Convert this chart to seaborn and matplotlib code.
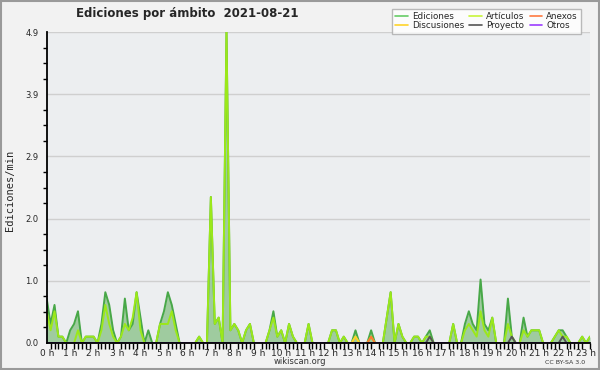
import numpy as np
import pandas as pd
import matplotlib
matplotlib.use("Agg")
import matplotlib.pyplot as plt
import seaborn as sns
from matplotlib.ticker import MultipleLocator, FixedLocator
from matplotlib.lines import Line2D
from matplotlib.patches import Rectangle

# ---- data: edits/min per 10-minute interval, 2021-08-21 ----
ediciones = [
    0.7, 0.3, 0.6, 0.1, 0.1, 0.0, 0.2, 0.3, 0.5, 0.0, 0.1, 0.1,
    0.1, 0.0, 0.3, 0.8, 0.6, 0.2, 0.0, 0.1, 0.7, 0.2, 0.3, 0.8,
    0.4, 0.0, 0.2, 0.0, 0.0, 0.3, 0.5, 0.8, 0.6, 0.3, 0.0, 0.0,
    0.0, 0.0, 0.0, 0.1, 0.0, 0.0, 2.3, 0.3, 0.4, 0.0, 4.9, 0.2,
    0.3, 0.2, 0.0, 0.2, 0.3, 0.0, 0.0, 0.0, 0.0, 0.2, 0.5, 0.1,
    0.2, 0.0, 0.3, 0.1, 0.0, 0.0, 0.0, 0.3, 0.0, 0.0, 0.0, 0.0,
    0.0, 0.2, 0.2, 0.0, 0.1, 0.0, 0.0, 0.2, 0.0, 0.0, 0.0, 0.2,
    0.0, 0.0, 0.0, 0.4, 0.8, 0.0, 0.3, 0.1, 0.0, 0.0, 0.1, 0.1,
    0.0, 0.1, 0.2, 0.0, 0.0, 0.0, 0.0, 0.0, 0.3, 0.0, 0.0, 0.3,
    0.5, 0.3, 0.2, 1.0, 0.3, 0.2, 0.4, 0.0, 0.0, 0.0, 0.7, 0.1,
    0.0, 0.0, 0.4, 0.1, 0.2, 0.2, 0.2, 0.0, 0.0, 0.0, 0.1, 0.2,
    0.2, 0.1, 0.0, 0.0, 0.0, 0.1, 0.0, 0.1,
]
articulos = [
    0.5, 0.2, 0.5, 0.1, 0.1, 0.0, 0.0, 0.0, 0.2, 0.0, 0.1, 0.1,
    0.1, 0.0, 0.2, 0.6, 0.3, 0.1, 0.0, 0.1, 0.3, 0.2, 0.4, 0.8,
    0.2, 0.0, 0.0, 0.0, 0.0, 0.3, 0.3, 0.3, 0.5, 0.2, 0.0, 0.0,
    0.0, 0.0, 0.0, 0.1, 0.0, 0.0, 2.3, 0.3, 0.4, 0.0, 4.9, 0.2,
    0.3, 0.2, 0.0, 0.2, 0.3, 0.0, 0.0, 0.0, 0.0, 0.2, 0.4, 0.1,
    0.2, 0.0, 0.3, 0.1, 0.0, 0.0, 0.0, 0.3, 0.0, 0.0, 0.0, 0.0,
    0.0, 0.2, 0.2, 0.0, 0.1, 0.0, 0.0, 0.1, 0.0, 0.0, 0.0, 0.1,
    0.0, 0.0, 0.0, 0.4, 0.8, 0.0, 0.3, 0.1, 0.0, 0.0, 0.1, 0.1,
    0.0, 0.1, 0.1, 0.0, 0.0, 0.0, 0.0, 0.0, 0.3, 0.0, 0.0, 0.2,
    0.3, 0.2, 0.1, 0.5, 0.2, 0.1, 0.4, 0.0, 0.0, 0.0, 0.3, 0.1,
    0.0, 0.0, 0.2, 0.1, 0.2, 0.2, 0.2, 0.0, 0.0, 0.0, 0.1, 0.2,
    0.1, 0.1, 0.0, 0.0, 0.0, 0.1, 0.0, 0.1,
]
# sparse series: {interval index: value}
discusiones_nz = {79: 0.1}
anexos_nz = {83: 0.1}
proyecto_nz = {98: 0.1, 119: 0.1, 132: 0.1}
otros_nz = {}

hour_labels = [f"{h} h" for h in range(24)]
y_tick_values = [0.0, 0.98, 1.96, 2.94, 3.92, 4.9]
y_tick_labels = ["0.0", "1.0", "2.0", "2.9", "3.9", "4.9"]

n = len(ediciones)


def expand(nz):
    arr = np.zeros(n)
    for k, v in nz.items():
        arr[k] = v
    return arr


df = pd.DataFrame({
    "hora": np.arange(n) / 6.0,
    "Ediciones": ediciones,
    "Artículos": articulos,
    "Anexos": expand(anexos_nz),
    "Discusiones": expand(discusiones_nz),
    "Proyecto": expand(proyecto_nz),
    "Otros": expand(otros_nz),
})

colors = {
    "Ediciones": "#48a848",
    "Artículos": "#9be81a",
    "Anexos": "#ff7a33",
    "Discusiones": "#ffd030",
    "Proyecto": "#555555",
    "Otros": "#9b3cff",
}
legend_colors = {
    "Ediciones": "#66cc66",
    "Artículos": "#c8f53a",
    "Anexos": "#ff7a40",
    "Discusiones": "#ffd42a",
    "Proyecto": "#555555",
    "Otros": "#9b3cff",
}

sns.set_theme(style="white")
plt.rcParams["font.family"] = ["DejaVu Sans"]

fig = plt.figure(figsize=(6, 3.7), dpi=100)
fig.patch.set_facecolor("#f2f2f2")
ax = fig.add_axes([46.7 / 600, 27 / 370, 543.3 / 600, 311 / 370])
ax.set_facecolor("#eceef0")

# fill under total
ax.fill_between(df["hora"], 0, df["Ediciones"], color="#9fcb9f", lw=0, zorder=1)

for name in ["Ediciones", "Artículos", "Discusiones", "Anexos", "Proyecto", "Otros"]:
    sns.lineplot(data=df, x="hora", y=name, ax=ax, color=colors[name],
                 lw=1.4, legend=False, zorder=3)

ax.set_xlim(0, (n - 1) / 6.0)
ax.set_ylim(0, 4.9)

ax.yaxis.set_major_locator(FixedLocator(y_tick_values))
ax.set_yticklabels(y_tick_labels)
ax.yaxis.set_minor_locator(MultipleLocator(0.245))
ax.xaxis.set_major_locator(FixedLocator(list(range(24))))
ax.set_xticklabels(hour_labels)
ax.xaxis.set_minor_locator(MultipleLocator(1 / 6))

ax.grid(axis="y", which="major", color="#cfcfcf", lw=1)
ax.set_axisbelow(True)
ax.tick_params(axis="both", which="both", direction="out", color="black")
ax.tick_params(axis="y", which="major", length=5, width=1, labelsize=6, pad=1)
ax.tick_params(axis="y", which="minor", length=3, width=1, left=True)
ax.tick_params(axis="x", which="major", length=4, width=1, labelsize=6.5, pad=0)
ax.tick_params(axis="x", which="minor", length=4, width=1, bottom=True)
ax.set_xlabel("")
ax.set_ylabel("")
for s in ["top", "right"]:
    ax.spines[s].set_visible(False)
for s in ["left", "bottom"]:
    ax.spines[s].set_color("black")
    ax.spines[s].set_linewidth(1.3)
    ax.spines[s].set_zorder(5)

# legend (column-wise fill -> row order like reference)
order = ["Ediciones", "Discusiones", "Artículos", "Proyecto", "Anexos", "Otros"]
handles = [Line2D([], [], color=legend_colors[k], lw=1.2) for k in order]
leg = fig.legend(handles, order, loc="upper right", ncol=3,
                 bbox_to_anchor=(581 / 600, 1 - 9 / 370), fontsize=6.3,
                 frameon=True, fancybox=False, edgecolor="#aaaaaa",
                 handlelength=1.4, handletextpad=0.5, columnspacing=0.6,
                 labelspacing=0.05, borderpad=0.35, borderaxespad=0)
leg.get_frame().set_facecolor("white")
leg.get_frame().set_linewidth(1)

fig.text(187 / 600, 1 - 14 / 370, "Ediciones por ámbito  2021-08-21",
         ha="center", va="center", fontsize=8.5, fontweight="bold")
fig.text(10 / 600, 0.485, "Ediciones/min", rotation=90, ha="center",
         va="center", fontsize=7.5, family="DejaVu Sans Mono")
fig.text(0.5, 1 - 362 / 370, "wikiscan.org", ha="center", va="center",
         fontsize=6, color="#333333")
fig.text(565 / 600, 1 - 362 / 370, "CC BY-SA 3.0", ha="center", va="center",
         fontsize=4.5, color="#333333")

fig.add_artist(Rectangle((0.001, 0.002), 0.997, 0.996, transform=fig.transFigure,
                         fill=False, edgecolor="#9a9a9a", lw=1.5))

fig.savefig("out.png", dpi=100, facecolor=fig.get_facecolor())
